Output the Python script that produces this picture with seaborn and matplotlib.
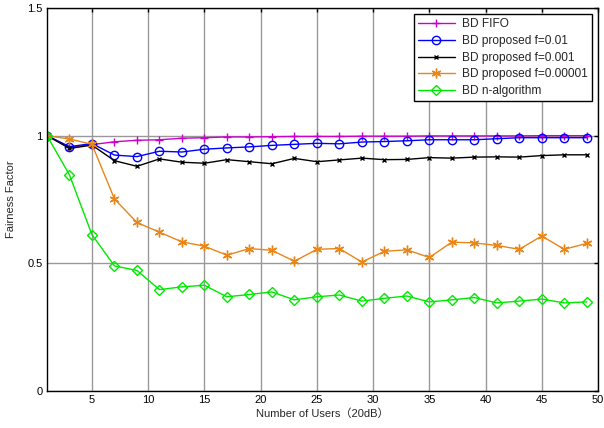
import numpy as np
import pandas as pd
import matplotlib
matplotlib.use("Agg")
import matplotlib.pyplot as plt
import seaborn as sns

users = list(range(1, 50, 2))
fifo = [1.0, 0.955, 0.965, 0.976, 0.982, 0.984, 0.99, 0.992, 0.995, 0.995, 0.996, 0.997, 0.997,
        0.997, 0.998, 0.998, 0.998, 0.999, 0.999, 0.999, 0.999, 0.999, 1.0, 1.0, 1.0]
f001 = [1.0, 0.957, 0.969, 0.924, 0.918, 0.939, 0.936, 0.947, 0.952, 0.956, 0.962, 0.966, 0.970,
        0.968, 0.975, 0.977, 0.980, 0.984, 0.984, 0.984, 0.988, 0.992, 0.992, 0.992, 0.992]
f0001 = [1.0, 0.95, 0.963, 0.902, 0.88, 0.909, 0.896, 0.892, 0.906, 0.898, 0.89, 0.911, 0.898,
         0.905, 0.912, 0.906, 0.907, 0.914, 0.912, 0.916, 0.917, 0.916, 0.922, 0.925, 0.925]
f00001 = [1.0, 0.987, 0.966, 0.752, 0.66, 0.622, 0.584, 0.567, 0.532, 0.558, 0.551, 0.508, 0.555,
          0.558, 0.505, 0.547, 0.553, 0.523, 0.583, 0.580, 0.57, 0.555, 0.607, 0.555, 0.578]
nalg = [1.0, 0.846, 0.612, 0.49, 0.472, 0.397, 0.408, 0.414, 0.369, 0.378, 0.388, 0.357, 0.369,
        0.376, 0.352, 0.363, 0.372, 0.349, 0.357, 0.366, 0.345, 0.352, 0.36, 0.345, 0.349]

names = ["BD FIFO", "BD proposed f=0.01", "BD proposed f=0.001",
         "BD proposed f=0.00001", "BD n-algorithm"]
series = [fifo, f001, f0001, f00001, nalg]
colors = ["#cc00cc", "#0000ff", "#000000", "#e8861a", "#00e800"]
markers = ["+", "o", "x", (6, 2, 0), "D"]
msizes = [6, 6, 3.5, 7, 5]

xticks = [5, 10, 15, 20, 25, 30, 35, 40, 45, 50]
yticks = [0, 0.5, 1, 1.5]
yticklabels = ["0", "0.5", "1", "1.5"]

sns.set_theme(style="white")
plt.rcParams['font.family'] = ['Liberation Sans', 'Noto Sans CJK SC', 'DejaVu Sans']

fig = plt.figure(figsize=(6.04, 4.28), dpi=100)
ax = fig.add_axes([47/604, 1-391/428, (598-47)/604, (391-8)/428])

for name, vals, c, m, ms in zip(names, series, colors, markers, msizes):
    df = pd.DataFrame({"x": users, "y": vals})
    sns.lineplot(data=df, x="x", y="y", ax=ax, color=c, marker=m, markersize=ms,
                 markerfacecolor="none", markeredgecolor=c, markeredgewidth=1.0,
                 linewidth=1.0, label=name)

ax.set_xlim(1, 50)
ax.set_ylim(0, 1.5)
ax.set_xticks(xticks)
ax.set_yticks(yticks)
ax.set_yticklabels(yticklabels)
ax.grid(True, color="#999999", linewidth=1.0, linestyle="-")
ax.set_axisbelow(True)
for s in ax.spines.values():
    s.set_visible(True)
    s.set_color("black")
    s.set_linewidth(1.0)
ax.tick_params(direction="in", length=3, width=1, top=True, right=True,
               labelsize=8, colors="black", pad=3)
ax.set_xlabel("Number of Users（20dB）", fontsize=8, labelpad=2)
ax.set_ylabel("Fairness Factor", fontsize=8, labelpad=8)

leg = ax.legend(loc="upper right", fontsize=8.6, frameon=True, fancybox=False,
                edgecolor="black", framealpha=1, borderaxespad=0.5,
                handlelength=3.1, labelspacing=0.4, borderpad=0.35, handletextpad=0.6)
leg.get_frame().set_linewidth(1.0)

fig.savefig("out.png", dpi=100)
